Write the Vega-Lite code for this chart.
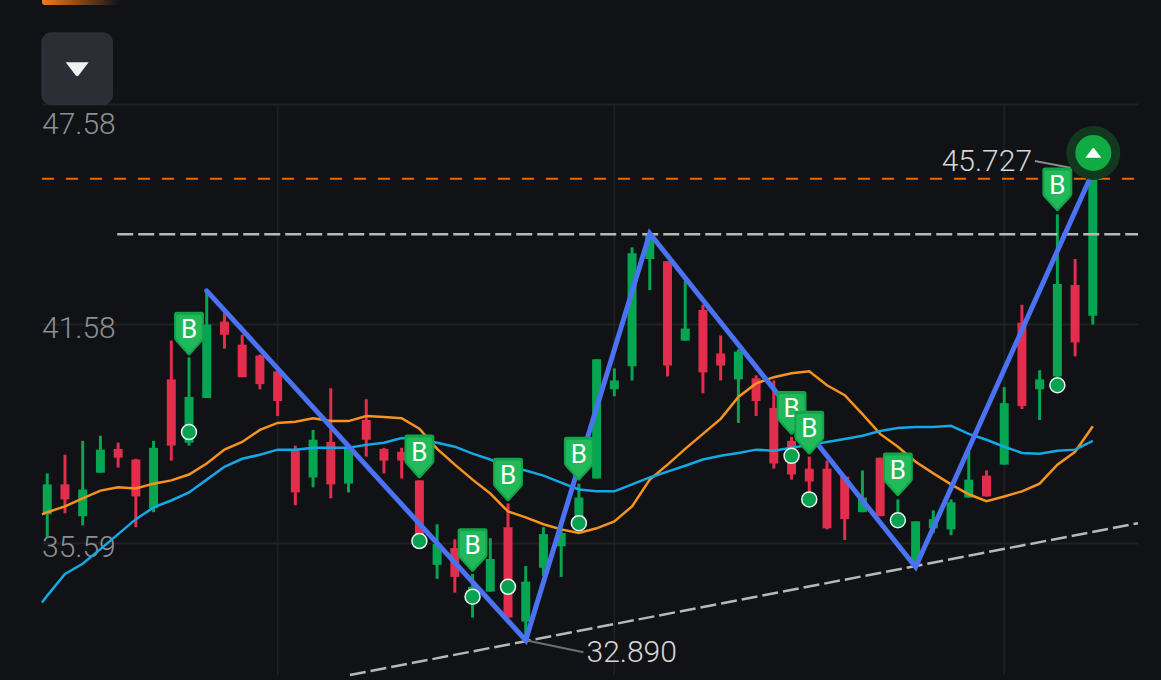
{
  "$schema": "https://vega.github.io/schema/vega-lite/v6.json",
  "width": 1161,
  "height": 680,
  "autosize": {"type": "fit", "contains": "padding"},
  "padding": {"left": 36, "right": 18, "top": 0, "bottom": 0},
  "background": "#101215",
  "config": {"view": {"stroke": null}, "text": {"font": "Roboto"}},
  "datasets": {
    "candles": [
      {"i":0,"hi":37.49,"top":37.19,"bot":36.37,"lo":35.75,"side":"green"},
      {"i":1,"hi":38.00,"top":37.19,"bot":36.78,"lo":36.40,"side":"red"},
      {"i":2,"hi":38.38,"top":37.05,"bot":36.32,"lo":36.07,"side":"green"},
      {"i":3,"hi":38.52,"top":38.14,"bot":37.51,"lo":37.51,"side":"green"},
      {"i":4,"hi":38.33,"top":38.16,"bot":37.92,"lo":37.65,"side":"red"},
      {"i":5,"hi":37.89,"top":37.87,"bot":36.86,"lo":36.02,"side":"red"},
      {"i":6,"hi":38.38,"top":38.19,"bot":36.54,"lo":36.43,"side":"green"},
      {"i":7,"hi":41.12,"top":40.06,"bot":38.25,"lo":37.84,"side":"red"},
      {"i":8,"hi":40.66,"top":39.58,"bot":38.33,"lo":38.25,"side":"green"},
      {"i":9,"hi":42.48,"top":41.56,"bot":39.55,"lo":39.55,"side":"green"},
      {"i":10,"hi":41.88,"top":41.64,"bot":41.28,"lo":40.90,"side":"red"},
      {"i":11,"hi":41.28,"top":41.01,"bot":40.12,"lo":40.12,"side":"red"},
      {"i":12,"hi":40.74,"top":40.71,"bot":39.93,"lo":39.79,"side":"red"},
      {"i":13,"hi":40.31,"top":40.28,"bot":39.47,"lo":39.06,"side":"red"},
      {"i":14,"hi":38.25,"top":38.14,"bot":36.97,"lo":36.62,"side":"red"},
      {"i":15,"hi":38.68,"top":38.41,"bot":37.38,"lo":37.11,"side":"green"},
      {"i":16,"hi":39.82,"top":38.35,"bot":37.19,"lo":36.81,"side":"red"},
      {"i":17,"hi":38.22,"top":38.22,"bot":37.21,"lo":36.97,"side":"green"},
      {"i":18,"hi":39.52,"top":38.95,"bot":38.41,"lo":37.95,"side":"red"},
      {"i":19,"hi":38.19,"top":38.16,"bot":37.84,"lo":37.49,"side":"red"},
      {"i":20,"hi":38.19,"top":38.08,"bot":37.84,"lo":37.35,"side":"red"},
      {"i":21,"hi":37.30,"top":37.30,"bot":35.78,"lo":35.78,"side":"red"},
      {"i":22,"hi":36.10,"top":35.56,"bot":34.99,"lo":34.61,"side":"green"},
      {"i":23,"hi":35.69,"top":35.45,"bot":34.66,"lo":34.23,"side":"red"},
      {"i":24,"hi":34.74,"top":34.39,"bot":33.98,"lo":33.55,"side":"green"},
      {"i":25,"hi":35.72,"top":35.15,"bot":34.26,"lo":34.26,"side":"green"},
      {"i":26,"hi":36.67,"top":36.02,"bot":33.55,"lo":33.55,"side":"red"},
      {"i":27,"hi":34.96,"top":34.53,"bot":33.44,"lo":32.93,"side":"green"},
      {"i":28,"hi":36.02,"top":35.83,"bot":34.91,"lo":34.69,"side":"green"},
      {"i":29,"hi":35.96,"top":35.86,"bot":35.50,"lo":34.66,"side":"green"},
      {"i":30,"hi":37.21,"top":36.83,"bot":36.10,"lo":36.05,"side":"green"},
      {"i":31,"hi":40.61,"top":40.61,"bot":37.35,"lo":37.35,"side":"green"},
      {"i":32,"hi":40.36,"top":40.03,"bot":39.79,"lo":39.60,"side":"green"},
      {"i":33,"hi":43.67,"top":43.51,"bot":40.42,"lo":40.03,"side":"green"},
      {"i":34,"hi":44.05,"top":44.05,"bot":43.35,"lo":42.50,"side":"green"},
      {"i":35,"hi":43.29,"top":43.29,"bot":40.44,"lo":40.14,"side":"red"},
      {"i":36,"hi":42.75,"top":41.45,"bot":41.12,"lo":41.12,"side":"green"},
      {"i":37,"hi":42.10,"top":41.96,"bot":40.25,"lo":39.68,"side":"red"},
      {"i":38,"hi":41.26,"top":40.77,"bot":40.44,"lo":40.03,"side":"red"},
      {"i":39,"hi":40.88,"top":40.82,"bot":40.06,"lo":38.87,"side":"green"},
      {"i":40,"hi":40.17,"top":40.09,"bot":39.47,"lo":39.06,"side":"red"},
      {"i":41,"hi":40.03,"top":39.28,"bot":37.76,"lo":37.62,"side":"red"},
      {"i":42,"hi":38.49,"top":38.38,"bot":37.46,"lo":37.32,"side":"red"},
      {"i":43,"hi":37.95,"top":37.62,"bot":37.27,"lo":36.94,"side":"red"},
      {"i":44,"hi":37.84,"top":37.62,"bot":35.99,"lo":35.96,"side":"red"},
      {"i":45,"hi":37.40,"top":37.40,"bot":36.24,"lo":35.67,"side":"red"},
      {"i":46,"hi":37.57,"top":36.83,"bot":36.43,"lo":36.43,"side":"green"},
      {"i":47,"hi":37.92,"top":37.92,"bot":36.32,"lo":36.32,"side":"red"},
      {"i":48,"hi":36.78,"top":36.35,"bot":36.07,"lo":36.07,"side":"green"},
      {"i":49,"hi":36.18,"top":36.18,"bot":35.04,"lo":35.04,"side":"green"},
      {"i":50,"hi":36.48,"top":36.24,"bot":35.99,"lo":35.86,"side":"green"},
      {"i":51,"hi":36.78,"top":36.70,"bot":35.96,"lo":35.80,"side":"green"},
      {"i":52,"hi":38.08,"top":37.32,"bot":36.83,"lo":36.83,"side":"green"},
      {"i":53,"hi":37.57,"top":37.43,"bot":36.86,"lo":36.86,"side":"red"},
      {"i":54,"hi":39.85,"top":39.41,"bot":37.73,"lo":37.73,"side":"green"},
      {"i":55,"hi":42.10,"top":41.61,"bot":39.33,"lo":39.25,"side":"red"},
      {"i":56,"hi":40.31,"top":40.06,"bot":39.79,"lo":38.95,"side":"green"},
      {"i":57,"hi":44.57,"top":42.67,"bot":40.14,"lo":40.12,"side":"green"},
      {"i":58,"hi":43.35,"top":42.64,"bot":41.07,"lo":40.69,"side":"red"},
      {"i":59,"hi":45.73,"top":45.73,"bot":41.80,"lo":41.56,"side":"green"}
    ],
    "averages": [
      {"i":-0.3,"fast":36.37,"slow":33.96},
      {"i":0,"fast":36.43,"slow":34.15},
      {"i":1,"fast":36.59,"slow":34.74},
      {"i":2,"fast":36.81,"slow":35.02},
      {"i":3,"fast":37.02,"slow":35.42},
      {"i":4,"fast":37.11,"slow":35.83},
      {"i":5,"fast":37.08,"slow":36.24},
      {"i":6,"fast":37.21,"slow":36.56},
      {"i":7,"fast":37.30,"slow":36.75},
      {"i":8,"fast":37.46,"slow":36.97},
      {"i":9,"fast":37.76,"slow":37.32},
      {"i":10,"fast":38.14,"slow":37.67},
      {"i":11,"fast":38.35,"slow":37.89},
      {"i":12,"fast":38.68,"slow":38.00},
      {"i":13,"fast":38.87,"slow":38.14},
      {"i":14,"fast":38.90,"slow":38.14},
      {"i":15,"fast":39.00,"slow":38.19},
      {"i":16,"fast":38.92,"slow":38.19},
      {"i":17,"fast":38.92,"slow":38.19},
      {"i":18,"fast":39.06,"slow":38.27},
      {"i":19,"fast":39.03,"slow":38.33},
      {"i":20,"fast":39.00,"slow":38.46},
      {"i":21,"fast":38.71,"slow":38.41},
      {"i":22,"fast":38.16,"slow":38.33},
      {"i":23,"fast":37.73,"slow":38.22},
      {"i":24,"fast":37.32,"slow":38.03},
      {"i":25,"fast":36.94,"slow":37.87},
      {"i":26,"fast":36.45,"slow":37.67},
      {"i":27,"fast":36.29,"slow":37.57},
      {"i":28,"fast":36.10,"slow":37.43},
      {"i":29,"fast":35.96,"slow":37.24},
      {"i":30,"fast":35.86,"slow":37.05},
      {"i":31,"fast":35.99,"slow":37.00},
      {"i":32,"fast":36.18,"slow":37.00},
      {"i":33,"fast":36.59,"slow":37.19},
      {"i":34,"fast":37.32,"slow":37.38},
      {"i":35,"fast":37.73,"slow":37.54},
      {"i":36,"fast":38.16,"slow":37.70},
      {"i":37,"fast":38.57,"slow":37.87},
      {"i":38,"fast":38.98,"slow":37.97},
      {"i":39,"fast":39.58,"slow":38.05},
      {"i":40,"fast":39.95,"slow":38.14},
      {"i":41,"fast":40.12,"slow":38.11},
      {"i":42,"fast":40.23,"slow":38.19},
      {"i":43,"fast":40.28,"slow":38.27},
      {"i":44,"fast":39.90,"slow":38.35},
      {"i":45,"fast":39.63,"slow":38.43},
      {"i":46,"fast":39.11,"slow":38.52},
      {"i":47,"fast":38.57,"slow":38.65},
      {"i":48,"fast":38.22,"slow":38.73},
      {"i":49,"fast":37.81,"slow":38.76},
      {"i":50,"fast":37.49,"slow":38.76},
      {"i":51,"fast":37.19,"slow":38.79},
      {"i":52,"fast":36.92,"slow":38.57},
      {"i":53,"fast":36.73,"slow":38.41},
      {"i":54,"fast":36.86,"slow":38.22},
      {"i":55,"fast":37.00,"slow":38.05},
      {"i":56,"fast":37.21,"slow":38.03},
      {"i":57,"fast":37.73,"slow":38.11},
      {"i":58,"fast":38.08,"slow":38.14},
      {"i":59,"fast":38.78,"slow":38.38}
    ],
    "buys": [
      {"i":8,"pin":41.31,"dot":38.62,"b":"B"},
      {"i":21,"pin":37.95,"dot":35.64,"b":"B"},
      {"i":24,"pin":35.39,"dot":34.12,"b":"B"},
      {"i":26,"pin":37.32,"dot":34.39,"b":"B"},
      {"i":30,"pin":37.89,"dot":36.13,"b":"B"},
      {"i":42,"pin":39.14,"dot":37.97,"b":"B"},
      {"i":48,"pin":37.46,"dot":36.21,"b":"B"},
      {"i":57,"pin":45.25,"dot":39.90,"b":"B"}
    ],
    "buysFront": [
      {"i":43,"pin":38.60,"dot":36.78,"b":"B"}
    ]
  },
  "layer": [
    {
      "data": {"values": [{"i":13,"price":47.58,"floor":31.98},{"i":32,"price":47.58,"floor":31.98},{"i":54,"price":47.58,"floor":31.98}]},
      "mark": {"type": "rule", "color": "#1f2225", "strokeWidth": 1.5},
      "encoding": {
        "x": {"field": "i", "type": "quantitative", "scale": {"domain": [-0.296, 61.55], "nice": false, "zero": false}, "axis": null},
        "y": {
          "field": "price",
          "type": "quantitative",
          "scale": {"domain": [31.98, 50.43], "nice": false, "zero": false},
          "axis": {"values": [47.58, 41.58, 35.59], "title": null, "labels": false, "ticks": false, "domain": false, "grid": true, "gridColor": "#1f2225", "gridWidth": 2}
        },
        "y2": {"field": "floor"}
      }
    },
    {
      "data": {"values": [{"label":"47.58","price":47.01,"i":-0.296},{"label":"41.58","price":41.45,"i":-0.296},{"label":"35.59","price":35.45,"i":-0.296}]},
      "mark": {"type": "text", "align": "left", "baseline": "middle", "fontSize": 30, "fontWeight": 300, "color": "#8c8f93"},
      "encoding": {
        "x": {"field": "i", "type": "quantitative"},
        "y": {"field": "price", "type": "quantitative"},
        "text": {"field": "label"}
      }
    },
    {
      "data": {"values": [{"x0":-0.296,"x1":4.12,"y0":50.43,"y1":50.29}]},
      "mark": {"type": "rect", "cornerRadiusBottomLeft": 3, "color": {"gradient": "linear", "x1": 0, "x2": 1, "y1": 0, "y2": 0, "stops": [{"offset": 0, "color": "#f47a1c"}, {"offset": 1, "color": "#101215"}]}},
      "encoding": {
        "x": {"field": "x0", "type": "quantitative"},
        "x2": {"field": "x1"},
        "y": {"field": "y0", "type": "quantitative"},
        "y2": {"field": "y1"}
      }
    },
    {
      "data": {"values": [{"x0":-0.296,"x1":3.67,"y0":49.53,"y1":47.58}]},
      "mark": {"type": "rect", "cornerRadius": 9, "fill": "#2b2e34", "stroke": "#33363c", "strokeWidth": 1},
      "encoding": {
        "x": {"field": "x0", "type": "quantitative"},
        "x2": {"field": "x1"},
        "y": {"field": "y0", "type": "quantitative"},
        "y2": {"field": "y1"}
      }
    },
    {
      "data": {"values": [{"i":1.69,"price":48.54}]},
      "mark": {"type": "point", "filled": true, "opacity": 1, "size": 529, "color": "#f2f2f2", "shape": "M-1,-0.6 L1,-0.6 L0.12,0.55 Q0,0.68 -0.12,0.55 Z"},
      "encoding": {
        "x": {"field": "i", "type": "quantitative"},
        "y": {"field": "price", "type": "quantitative"}
      }
    },
    {
      "data": {"name": "candles"},
      "layer": [
        {
          "mark": {"type": "rule", "strokeWidth": 3},
          "encoding": {
            "x": {"field": "i", "type": "quantitative"},
            "y": {"field": "hi", "type": "quantitative"},
            "y2": {"field": "lo"},
            "color": {"field": "side", "type": "nominal", "scale": {"domain": ["green", "red"], "range": ["#06a552", "#e22d4d"]}, "legend": null}
          }
        },
        {
          "mark": {"type": "rule", "strokeWidth": 9},
          "encoding": {
            "x": {"field": "i", "type": "quantitative"},
            "y": {"field": "top", "type": "quantitative"},
            "y2": {"field": "bot"},
            "color": {"field": "side", "type": "nominal", "legend": null}
          }
        }
      ]
    },
    {
      "data": {"name": "averages"},
      "layer": [
        {
          "mark": {"type": "line", "color": "#f7931e", "strokeWidth": 2.5},
          "encoding": {
            "x": {"field": "i", "type": "quantitative"},
            "y": {"field": "fast", "type": "quantitative"}
          }
        },
        {
          "mark": {"type": "line", "color": "#12a9e6", "strokeWidth": 2.5},
          "encoding": {
            "x": {"field": "i", "type": "quantitative"},
            "y": {"field": "slow", "type": "quantitative"}
          }
        }
      ]
    },
    {
      "data": {"values": [{"x0":-0.296,"x1":61.55,"price":45.545}]},
      "mark": {"type": "rule", "color": "#e8650a", "strokeWidth": 2, "strokeDash": [12, 12]},
      "encoding": {
        "x": {"field": "x0", "type": "quantitative"},
        "x2": {"field": "x1"},
        "y": {"field": "price", "type": "quantitative"}
      }
    },
    {
      "data": {"values": [{"x0":3.95,"x1":61.55,"price":44.025}]},
      "mark": {"type": "rule", "color": "#b8b8b8", "strokeWidth": 2.5, "strokeDash": [16, 5]},
      "encoding": {
        "x": {"field": "x0", "type": "quantitative"},
        "x2": {"field": "x1"},
        "y": {"field": "price", "type": "quantitative"}
      }
    },
    {
      "data": {"values": [{"i":17.08,"price":31.98},{"i":61.55,"price":36.13}]},
      "mark": {"type": "line", "color": "#b8b8b8", "strokeWidth": 2.5, "strokeDash": [16, 5]},
      "encoding": {
        "x": {"field": "i", "type": "quantitative"},
        "y": {"field": "price", "type": "quantitative"}
      }
    },
    {
      "data": {"values": [{"i":27,"price":32.93},{"i":30.26,"price":32.60}]},
      "mark": {"type": "line", "color": "#6e6e6e", "strokeWidth": 2},
      "encoding": {
        "x": {"field": "i", "type": "quantitative"},
        "y": {"field": "price", "type": "quantitative"}
      }
    },
    {
      "data": {"values": [{"i":55.73,"price":46.03},{"i":59,"price":45.73}]},
      "mark": {"type": "line", "color": "#8a8a8a", "strokeWidth": 2},
      "encoding": {
        "x": {"field": "i", "type": "quantitative"},
        "y": {"field": "price", "type": "quantitative"}
      }
    },
    {
      "data": {"values": [{"i":9,"price":42.48},{"i":27,"price":32.93},{"i":34,"price":44.05},{"i":49,"price":34.93},{"i":59,"price":45.73}]},
      "mark": {"type": "line", "color": "#4a72f2", "strokeWidth": 5, "strokeCap": "round", "strokeJoin": "miter"},
      "encoding": {
        "x": {"field": "i", "type": "quantitative"},
        "y": {"field": "price", "type": "quantitative"}
      }
    },
    {
      "data": {"values": [{"label":"32.890","i":30.43,"price":32.57}]},
      "mark": {"type": "text", "align": "left", "baseline": "middle", "fontSize": 30, "fontWeight": 300, "color": "#d6d6d6"},
      "encoding": {
        "x": {"field": "i", "type": "quantitative"},
        "y": {"field": "price", "type": "quantitative"},
        "text": {"field": "label"}
      }
    },
    {
      "data": {"values": [{"label":"45.727","i":55.57,"price":46.01}]},
      "mark": {"type": "text", "align": "right", "baseline": "middle", "fontSize": 30, "fontWeight": 300, "color": "#d6d6d6"},
      "encoding": {
        "x": {"field": "i", "type": "quantitative"},
        "y": {"field": "price", "type": "quantitative"},
        "text": {"field": "label"}
      }
    },
    {
      "data": {"name": "buys"},
      "layer": [
        {
          "mark": {"type": "point", "filled": true, "opacity": 1, "size": 225, "fill": "#07a152", "stroke": "#e8f5ee", "strokeWidth": 1.5},
          "encoding": {"x": {"field": "i", "type": "quantitative"}, "y": {"field": "dot", "type": "quantitative"}}
        },
        {
          "mark": {"type": "point", "filled": true, "opacity": 1, "size": 1936, "color": "#10a548", "shape": "M-0.56,-1 L0.56,-1 Q0.68,-1 0.68,-0.87 L0.68,0.2 Q0.68,0.28 0.6,0.36 L0.05,0.97 Q0,1 -0.05,0.97 L-0.6,0.36 Q-0.68,0.28 -0.68,0.2 L-0.68,-0.87 Q-0.68,-1 -0.56,-1 Z"},
          "encoding": {"x": {"field": "i", "type": "quantitative"}, "y": {"field": "pin", "type": "quantitative"}}
        },
        {
          "mark": {"type": "point", "filled": true, "opacity": 1, "size": 1444, "color": "#21b95a", "shape": "M-0.56,-1 L0.56,-1 Q0.68,-1 0.68,-0.87 L0.68,0.2 Q0.68,0.28 0.6,0.36 L0.05,0.97 Q0,1 -0.05,0.97 L-0.6,0.36 Q-0.68,0.28 -0.68,0.2 L-0.68,-0.87 Q-0.68,-1 -0.56,-1 Z"},
          "encoding": {"x": {"field": "i", "type": "quantitative"}, "y": {"field": "pin", "type": "quantitative"}}
        },
        {
          "mark": {"type": "text", "align": "center", "baseline": "middle", "fontSize": 26, "color": "#ffffff", "dy": -4},
          "encoding": {"x": {"field": "i", "type": "quantitative"}, "y": {"field": "pin", "type": "quantitative"}, "text": {"field": "b"}}
        }
      ]
    },
    {
      "data": {"name": "buysFront"},
      "layer": [
        {
          "mark": {"type": "point", "filled": true, "opacity": 1, "size": 225, "fill": "#07a152", "stroke": "#e8f5ee", "strokeWidth": 1.5},
          "encoding": {"x": {"field": "i", "type": "quantitative"}, "y": {"field": "dot", "type": "quantitative"}}
        },
        {
          "mark": {"type": "point", "filled": true, "opacity": 1, "size": 1936, "color": "#10a548", "shape": "M-0.56,-1 L0.56,-1 Q0.68,-1 0.68,-0.87 L0.68,0.2 Q0.68,0.28 0.6,0.36 L0.05,0.97 Q0,1 -0.05,0.97 L-0.6,0.36 Q-0.68,0.28 -0.68,0.2 L-0.68,-0.87 Q-0.68,-1 -0.56,-1 Z"},
          "encoding": {"x": {"field": "i", "type": "quantitative"}, "y": {"field": "pin", "type": "quantitative"}}
        },
        {
          "mark": {"type": "point", "filled": true, "opacity": 1, "size": 1444, "color": "#21b95a", "shape": "M-0.56,-1 L0.56,-1 Q0.68,-1 0.68,-0.87 L0.68,0.2 Q0.68,0.28 0.6,0.36 L0.05,0.97 Q0,1 -0.05,0.97 L-0.6,0.36 Q-0.68,0.28 -0.68,0.2 L-0.68,-0.87 Q-0.68,-1 -0.56,-1 Z"},
          "encoding": {"x": {"field": "i", "type": "quantitative"}, "y": {"field": "pin", "type": "quantitative"}}
        },
        {
          "mark": {"type": "text", "align": "center", "baseline": "middle", "fontSize": 26, "color": "#ffffff", "dy": -4},
          "encoding": {"x": {"field": "i", "type": "quantitative"}, "y": {"field": "pin", "type": "quantitative"}, "text": {"field": "b"}}
        }
      ]
    },
    {
      "data": {"values": [{"i":59.03,"price":46.25}]},
      "layer": [
        {
          "mark": {"type": "point", "filled": true, "opacity": 1, "size": 2916, "shape": "circle", "color": "#12381f"},
          "encoding": {"x": {"field": "i", "type": "quantitative"}, "y": {"field": "price", "type": "quantitative"}}
        },
        {
          "mark": {"type": "point", "filled": true, "opacity": 1, "size": 1296, "shape": "circle", "color": "#10ab43"},
          "encoding": {"x": {"field": "i", "type": "quantitative"}, "y": {"field": "price", "type": "quantitative"}}
        },
        {
          "mark": {"type": "point", "filled": true, "opacity": 1, "size": 256, "color": "#ffffff", "shape": "M-1,0.6 L1,0.6 L0.12,-0.55 Q0,-0.68 -0.12,-0.55 Z"},
          "encoding": {"x": {"field": "i", "type": "quantitative"}, "y": {"field": "price", "type": "quantitative"}}
        }
      ]
    }
  ]
}
